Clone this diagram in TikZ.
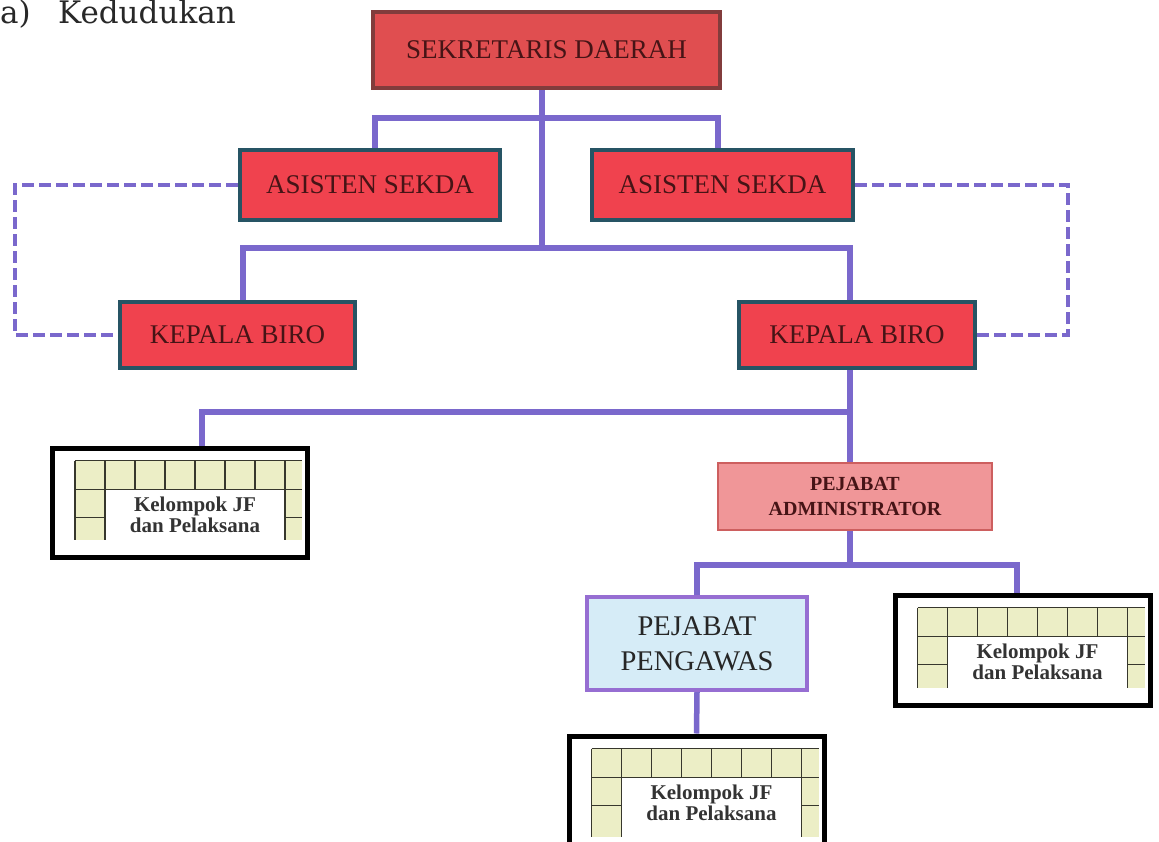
\documentclass[tikz,border=0pt]{standalone}
\usepackage{fontspec}
\setmainfont{Liberation Serif}
\newfontfamily\titlefont{DejaVu Serif}
\usetikzlibrary{calc,backgrounds}
\definecolor{connc}{RGB}{122,104,204}
\definecolor{boxred}{RGB}{240,66,78}
\definecolor{boxedge}{RGB}{38,84,100}
\definecolor{sdfill}{RGB}{224,78,80}
\definecolor{sdedge}{RGB}{130,60,60}
\definecolor{textdark}{RGB}{70,20,22}
\definecolor{pafill}{RGB}{240,150,152}
\definecolor{paedge}{RGB}{205,95,95}
\definecolor{ppfill}{RGB}{214,236,247}
\definecolor{ppedge}{RGB}{150,110,210}
\definecolor{cellfill}{RGB}{236,238,198}
\definecolor{gridc}{RGB}{55,55,45}
\definecolor{titlec}{RGB}{40,40,40}
\tikzset{
  conn/.style={draw=connc, line width=5.5pt},
  dconn/.style={draw=connc, line width=4.5pt, dash pattern=on 12pt off 5pt},
  redbox/.style={draw=boxedge, line width=4pt, fill=boxred, text=textdark,
    font=\fontsize{27}{30}\selectfont, inner sep=0pt},
  sdbox/.style={draw=sdedge, line width=4pt, fill=sdfill, text=textdark,
    font=\fontsize{27}{30}\selectfont, inner sep=0pt},
  pabox/.style={draw=paedge, line width=2pt, fill=pafill, text=textdark,
    font=\bfseries\fontsize{20}{25}\selectfont, align=center, inner sep=0pt},
  ppbox/.style={draw=ppedge, line width=4pt, fill=ppfill, text=black!85,
    font=\fontsize{28.5}{35}\selectfont, align=center, inner sep=0pt},
  jfbox/.style={draw=black, line width=5pt, fill=white, inner sep=0pt,
    minimum width=255pt},
  gridline/.style={draw=gridc, line width=1.3pt},
  jftext/.style={font=\bfseries\fontsize{21}{21}\selectfont, align=center,
    text=black!80, inner sep=0pt},
  titletext/.style={font=\titlefont\fontsize{31}{36}\selectfont, text=titlec,
    inner sep=0pt, anchor=base west}
}
\newcommand\jfgrid[2]{%
  \begin{scope}[shift={(#1.north west)}]
    \fill[cellfill] (25,15) rectangle (252,44);
    \fill[cellfill] (25,44) rectangle (55,#2);
    \fill[cellfill] (235,44) rectangle (252,#2);
    \draw[gridline] (25,15) -- (252,15) (25,44) -- (252,44)
      (25,72) -- (55,72) (235,72) -- (252,72);
    \foreach \gx in {25,55,...,205} {\draw[gridline] (\gx,15) -- (\gx,44);}
    \draw[gridline] (25,44) -- (25,#2) (55,44) -- (55,#2) (235,15) -- (235,#2);
    \node[jftext] (#1t) at (145,69) {Kelompok JF\\dan Pelaksana};
  \end{scope}}
\begin{document}
\begin{tikzpicture}[x=1pt,y=-1pt]
\useasboundingbox (0,0) rectangle (1159,841);
\clip (0,0) rectangle (1159,841);

% title
\node[titletext] (ta) at (0,23) {a)};
\node[titletext] (tb) at (58,23) {Kedudukan};

% boxes
\node[sdbox, minimum width=347pt, minimum height=76pt] (SD) at (546.5,50) {SEKRETARIS DAERAH};
\node[redbox, minimum width=260pt, minimum height=70pt] (AS1) at (370,185) {ASISTEN SEKDA};
\node[redbox, minimum width=261pt, minimum height=70pt] (AS2) at (722.5,185) {ASISTEN SEKDA};
\node[redbox, minimum width=235pt, minimum height=66pt] (KB1) at (237.5,335) {KEPALA BIRO};
\node[redbox, minimum width=236pt, minimum height=66pt] (KB2) at (857,335) {KEPALA BIRO};
\node[pabox, minimum width=274pt, minimum height=67pt] (PA) at (855,496.5) {PEJABAT\\ADMINISTRATOR};
\node[ppbox, minimum width=220pt, minimum height=93pt] (PP) at (697,643.5) {PEJABAT\\PENGAWAS};

\node[jfbox, minimum height=109pt] (JF1) at (180,502.5) {};
\jfgrid{JF1}{94}
\node[jfbox, minimum height=110pt] (JF2) at (1022.5,650) {};
\jfgrid{JF2}{95}
\node[jfbox, minimum height=118pt] (JF3) at (696.5,795) {};
\jfgrid{JF3}{103}

% bus coordinates
\coordinate (b1) at (542,118);
\coordinate (b2) at (542,248);
\coordinate (b3) at (850,412);
\coordinate (b4) at (850,565);
\coordinate (dl) at (15,182);
\coordinate (dr) at (1068,182);

\begin{scope}[on background layer]
\fill[white] (0,0) rectangle (1159,841);
\draw[conn] (SD.south -| b1) -- (b2);
\draw[conn] ($(AS1.north)+(5,0)$) |- (b1) -| ($(AS2.north)+(-4.5,0)$);
\draw[conn] ($(KB1.north)+(5.5,0)$) |- (b2) -| ($(KB2.north)+(-7,0)$);
\draw[conn] ($(KB2.south)+(-7,0)$) -- ($(PA.north)+(-5,0)$);
\draw[conn] ($(JF1.north)+(22,0)$) |- (b3);
\draw[conn] ($(PA.south)+(-5,0)$) -- (b4);
\draw[conn] (PP.north) |- (b4) -| ($(JF2.north)+(-5.5,0)$);
\draw[conn] (PP.south) -- (JF3.north);
\draw[dconn] (AS1.west) -- (AS1.west -| dl) |- (KB1.west);
\draw[dconn] (AS2.east) -- (AS2.east -| dr) |- (KB2.east);
\end{scope}
\end{tikzpicture}
\end{document}
